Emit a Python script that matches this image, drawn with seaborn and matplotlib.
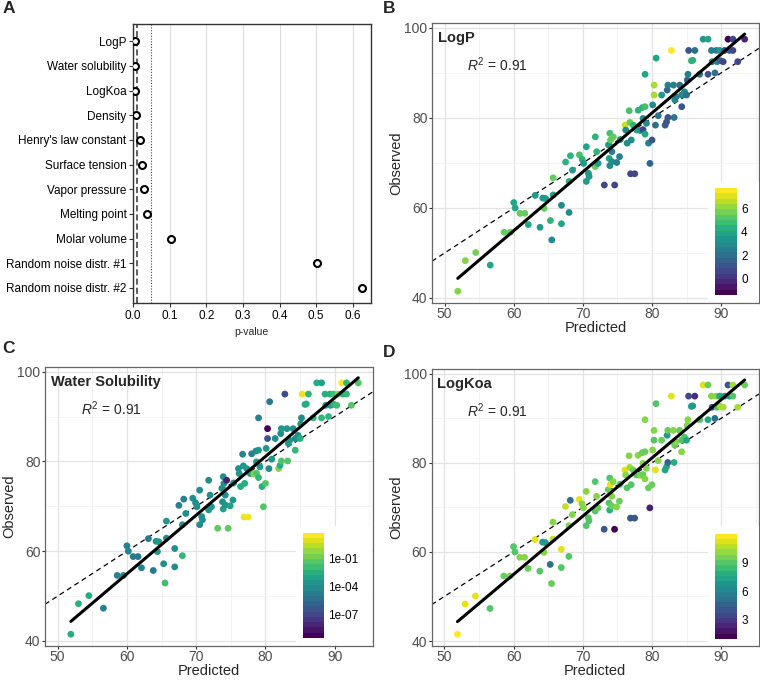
import numpy as np
import matplotlib
matplotlib.use("Agg")
import matplotlib.pyplot as plt
from matplotlib.colors import Normalize, LogNorm, ListedColormap
from matplotlib.ticker import MultipleLocator, NullLocator
import seaborn as sns

# panel A: p-values per feature
features = ["LogP", "Water solubility", "LogKoa", "Density", "Henry's law constant",
            "Surface tension", "Vapor pressure", "Melting point", "Molar volume",
            "Random noise distr. #1", "Random noise distr. #2"]
p_values = [0.0045, 0.0045, 0.0045, 0.009, 0.02, 0.0245, 0.029, 0.038, 0.1045, 0.502, 0.6245]

# panels B-D: predicted vs observed, coloured by a descriptor
predicted = [51.9, 53.0, 54.5, 56.6, 58.6, 59.5, 60.0, 60.2, 60.9, 61.6,
             62.1, 63.1, 63.8, 64.2, 64.6, 64.4, 65.3, 65.5, 65.7, 65.7,
             66.9, 66.9, 67.5, 68.0, 68.0, 68.2, 68.5, 69.5, 69.9, 70.1,
             70.5, 70.5, 70.8, 70.9, 71.8, 71.8, 72.0, 72.2, 73.1, 73.7,
             73.8, 73.9, 74.0, 73.9, 74.2, 74.2, 74.4, 74.6, 74.9, 75.3,
             75.4, 76.1, 76.2, 76.4, 76.7, 76.8, 76.9, 77.0, 77.3, 77.5,
             77.8, 78.0, 78.3, 78.6, 78.7, 78.7, 79.0, 79.0, 79.0, 79.2,
             79.5, 79.7, 80.0, 80.1, 80.3, 80.3, 80.5, 80.6, 80.9, 81.4,
             81.9, 82.1, 82.2, 82.3, 82.3, 82.8, 83.1, 83.2, 83.3, 83.5,
             84.0, 84.3, 84.3, 84.7, 85.0, 85.1, 85.2, 85.3, 85.7, 85.9,
             86.2, 86.9, 87.4, 88.1, 88.1, 88.6, 88.7, 89.1, 89.3, 89.4,
             89.8, 89.9, 90.3, 90.5, 91.0, 91.2, 91.7, 91.7, 92.4, 93.4]
observed = [41.5, 48.3, 50.1, 47.3, 54.6, 54.6, 61.2, 60.0, 58.8, 58.8,
            56.3, 62.8, 55.7, 62.2, 62.1, 59.9, 57.2, 52.9, 66.7, 62.9,
            60.6, 56.5, 70.2, 65.9, 59.0, 71.6, 68.4, 71.8, 70.8, 69.9,
            65.9, 73.6, 67.7, 67.0, 75.8, 69.2, 72.5, 69.9, 65.1, 74.0,
            71.0, 76.6, 75.1, 69.4, 72.5, 70.3, 75.8, 65.1, 70.1, 71.4,
            75.2, 78.4, 77.3, 74.4, 81.6, 79.0, 67.6, 75.1, 78.4, 67.6,
            77.3, 81.7, 77.2, 82.3, 79.9, 77.4, 76.4, 82.5, 89.7, 78.8,
            74.4, 69.9, 75.1, 82.9, 87.3, 85.1, 78.4, 93.3, 80.5, 85.1,
            78.4, 79.1, 86.2, 80.1, 87.3, 95.0, 87.3, 80.1, 84.0, 84.7,
            87.3, 82.5, 85.1, 85.8, 85.1, 88.4, 89.7, 95.0, 92.7, 92.8,
            95.0, 89.7, 97.5, 97.5, 89.7, 95.0, 92.5, 90.0, 95.0, 92.5,
            95.0, 92.7, 92.5, 95.0, 97.5, 95.0, 97.5, 95.0, 92.5, 97.5]
logp = [6.0, 6.0, 5.8, 4.0, 5.5, 5.5, 4.0, 4.0, 5.5, 5.5,
        4.0, 3.5, 3.5, 3.5, 3.5, 5.5, 4.5, 3.0, 5.5, 4.0,
        3.0, 4.0, 4.5, 4.5, 3.0, 4.5, 3.5, 5.0, 4.5, 3.5,
        3.5, 4.0, 3.5, 3.5, 4.5, 5.5, 4.5, 3.5, 0.5, 3.5,
        4.0, 5.0, 5.5, 3.0, 2.5, 3.0, 5.5, 0.5, 2.5, 2.5,
        3.0, 7.0, 3.0, 3.0, 5.0, 5.5, 0.5, 3.0, 4.5, 0.5,
        4.0, 4.5, 3.5, 4.5, 3.0, 0.5, 4.0, 5.0, 4.0, 3.0,
        2.5, 1.5, 1.0, 3.0, 6.5, 6.5, 2.0, 4.0, 2.0, 3.5,
        1.0, 1.0, 1.5, 1.0, 2.5, 7.7, 2.5, 2.0, 3.0, 2.5,
        2.0, 1.0, 3.0, 3.0, 2.0, 1.5, 2.5, 1.0, 4.5, 4.5,
        2.0, 2.0, 3.5, 4.0, 1.0, 2.5, 2.5, 2.0, 2.5, 3.0,
        3.5, 1.5, 0.5, 1.0, -1.4, 1.5, 0.5, 0.5, 0.5, -0.5]
water_sol = [3e-03, 5e-03, 3e-03, 3e-05, 3e-05, 1e-04, 3e-05, 3e-05, 1e-05, 1e-05,
             3e-05, 1e-05, 1e-05, 3e-04, 3e-04, 3e-04, 1e-04, 2e-02, 3e-04, 1e-04,
             1e-04, 1e-04, 3e-05, 3e-04, 8e-03, 3e-05, 1e-04, 1e-04, 1e-04, 1e-04,
             1e-04, 1e-04, 1e-04, 1e-04, 1e-04, 3e-04, 1e-04, 3e-04, 0.1, 1e-04,
             1e-04, 1e-04, 1e-04, 1e-03, 1e-04, 3e-04, 3e-09, 0.1, 1e-03, 3e-04,
             3e-04, 1e-04, 3e-04, 3e-03, 3e-05, 3e-04, 30.0, 3e-03, 3e-04, 30.0,
             3e-04, 3e-05, 0.5, 1e-04, 3e-04, 0.05, 8e-03, 3e-04, 3e-05, 3e-04,
             3e-03, 0.05, 0.05, 3e-04, 3e-10, 3e-07, 1e-04, 1e-05, 3e-04, 1e-04,
             0.5, 3e-03, 1e-04, 0.05, 3e-04, 1e-07, 3e-04, 0.05, 3e-04, 3e-04,
             1e-04, 8e-03, 1e-04, 1e-04, 3e-03, 3e-04, 1e-04, 30.0, 3e-03, 3e-03,
             8e-03, 8e-03, 3e-03, 1e-03, 8e-03, 3e-03, 3e-04, 8e-03, 3e-03, 3e-04,
             2e-02, 8e-03, 2e-02, 0.5, 60.0, 3e-03, 8e-03, 8e-03, 0.05, 0.05]
logkoa = [12.0, 11.5, 11.5, 9.0, 9.5, 10.0, 9.0, 9.0, 10.0, 10.0,
          9.5, 11.5, 9.0, 7.0, 7.0, 10.0, 5.0, 9.5, 10.0, 11.0,
          11.5, 9.0, 11.0, 10.0, 9.0, 5.0, 10.0, 11.5, 10.0, 10.0,
          9.0, 10.0, 9.0, 9.0, 9.0, 9.0, 10.0, 9.5, 4.0, 9.5,
          9.0, 9.0, 11.5, 8.0, 10.0, 9.5, 10.0, 1.0, 10.0, 9.5,
          9.0, 11.5, 10.0, 9.0, 10.0, 10.5, 4.0, 9.0, 9.5, 4.0,
          9.0, 10.0, 10.0, 9.5, 10.0, 9.5, 10.0, 9.5, 10.0, 10.0,
          9.5, 2.0, 9.5, 10.0, 10.0, 9.0, 11.5, 9.0, 10.0, 9.5,
          7.5, 7.5, 7.0, 4.5, 9.5, 11.5, 10.0, 8.0, 9.5, 10.0,
          9.5, 10.0, 9.0, 9.0, 7.5, 10.0, 10.0, 3.5, 7.0, 7.0,
          2.5, 9.0, 11.5, 9.5, 7.5, 10.0, 4.0, 5.0, 10.0, 9.0,
          7.5, 10.5, 10.5, 7.0, 4.0, 7.0, 10.5, 9.0, 10.5, 9.5]

sns.set_theme(style="white")
plt.rcParams["font.family"] = ["Liberation Sans", "DejaVu Sans"]
plt.rcParams["mathtext.fontset"] = "custom"
plt.rcParams["mathtext.rm"] = "Liberation Sans"
plt.rcParams["mathtext.it"] = "Liberation Sans:italic"

fig = plt.figure(figsize=(7.6, 6.82), dpi=100)
bar_cmap = ListedColormap(plt.get_cmap("viridis")(np.linspace(0, 1, 20)))

# ---- A: p-values ----
axA = fig.add_axes([0.1746, 0.5553, 0.3132, 0.4095])
sns.stripplot(x=p_values, y=features, jitter=False, color="white", edgecolor="black",
              linewidth=1.5, size=5, ax=axA, zorder=3)
axA.axvline(0.01, color="#333333", lw=1.1, ls=(0, (4, 2)), zorder=2)
axA.axvline(0.05, color="#444444", lw=0.8, ls=(0, (1, 1.5)), zorder=2)
axA.set_xlim(-0.001, 0.649)
axA.set_ylim(10.62, -0.7)
axA.set_xticks(np.arange(0, 0.61, 0.1))
axA.xaxis.set_major_formatter(lambda v, p: f"{v:.1f}")
axA.set_axisbelow(True)
axA.grid(axis="x", color="#DCDCDC", lw=0.8)
axA.grid(axis="y", visible=False)
axA.set_xlabel("p-value", fontsize=7.5, labelpad=4)
axA.set_ylabel("")
axA.tick_params(axis="both", length=3, width=0.8, color="#333333", labelsize=8.5,
                labelcolor="black", pad=1.5, bottom=True, left=True)
for s in axA.spines.values():
    s.set_color("#333333")
    s.set_linewidth(1.0)


def scatter_panel(rect, values, norm, name, name_xy, r2_xy, box_rect, bar_rect, bar_ticks, bar_fmt):
    ax = fig.add_axes(rect)
    ax.set_axisbelow(True)
    ax.axline((50, 50), slope=1, color="black", lw=0.9, ls=(0, (4, 3)), zorder=2)
    sns.scatterplot(x=predicted, y=observed, hue=values, hue_norm=norm, palette="viridis",
                    s=24, linewidth=0, legend=False, ax=ax, zorder=3)
    sns.regplot(x=predicted, y=observed, scatter=False, ci=None, color="black",
                line_kws={"lw": 2.2, "zorder": 4}, ax=ax)
    ax.set_xlim(48.17, 95.48)
    ax.set_ylim(38.88, 101.1)
    ax.set_xticks([50, 60, 70, 80, 90])
    ax.set_yticks([40, 60, 80, 100])
    ax.xaxis.set_minor_locator(MultipleLocator(5))
    ax.yaxis.set_minor_locator(MultipleLocator(10))
    ax.grid(which="major", color="#E3E3E3", lw=0.9)
    ax.grid(which="minor", color="#F0F0F0", lw=0.5)
    ax.tick_params(which="major", length=2.2, width=0.8, color="#333333", labelsize=10,
                   labelcolor="#4D4D4D", pad=1, bottom=True, left=True)
    ax.tick_params(which="minor", length=0)
    for s in ax.spines.values():
        s.set_color("#666666")
        s.set_linewidth(0.9)
    ax.set_xlabel("Predicted", fontsize=10.5, labelpad=-0.5)
    ax.set_ylabel("Observed", fontsize=10.5, labelpad=0.5)
    ax.text(name_xy[0], name_xy[1], name, fontsize=10.5, fontweight="bold", va="center", ha="left")
    ax.text(r2_xy[0], r2_xy[1], r"$R^2$ = 0.91", fontsize=10, va="center", ha="center")

    box = fig.add_axes(box_rect)
    box.set_facecolor("white")
    box.set_xticks([])
    box.set_yticks([])
    for s in box.spines.values():
        s.set_visible(False)
    cax = fig.add_axes(bar_rect)
    sm = plt.cm.ScalarMappable(norm=norm, cmap=bar_cmap)
    cb = fig.colorbar(sm, cax=cax)
    cb.outline.set_visible(False)
    cb.set_ticks(bar_ticks)
    cax.yaxis.set_major_formatter(bar_fmt)
    cax.yaxis.set_minor_locator(NullLocator())
    cax.yaxis.set_ticks_position("both")
    cax.tick_params(axis="y", direction="in", color="white", length=3.2, width=0.8,
                    labelsize=8.5, labelcolor="black", pad=3, left=True, right=True,
                    labelleft=False, labelright=True)
    return ax


scatter_panel([0.5684, 0.5557, 0.4303, 0.4106], logp, Normalize(min(logp), max(logp)),
              "LogP", (49.0, 97.8), (57.7, 91.8),
              [0.9316, 0.5572, 0.0671, 0.176], [0.9408, 0.5674, 0.0289, 0.1569],
              [0, 2, 4, 6], lambda v, p: f"{v:.0f}")
scatter_panel([0.0592, 0.0528, 0.4312, 0.4095], water_sol, LogNorm(min(water_sol), max(water_sol)),
              "Water Solubility", (49.0, 97.8), (57.7, 91.8),
              [0.3895, 0.0545, 0.1, 0.1745], [0.3983, 0.0645, 0.028, 0.1545],
              [1e-7, 1e-4, 1e-1], lambda v, p: f"{v:.0e}")
scatter_panel([0.568, 0.0528, 0.4307, 0.4062], logkoa, Normalize(min(logkoa), max(logkoa)),
              "LogKoa", (49.0, 97.8), (57.7, 91.8),
              [0.9316, 0.0545, 0.0671, 0.1745], [0.9408, 0.063, 0.0289, 0.1545],
              [3, 6, 9], lambda v, p: f"{v:.0f}")

for lab, x, y in [("A", 0.004, 0.998), ("B", 0.504, 0.998), ("C", 0.003, 0.5), ("D", 0.504, 0.494)]:
    fig.text(x, y, lab, fontsize=12.5, fontweight="bold", va="top", ha="left")

fig.savefig("out.png", dpi=100)
